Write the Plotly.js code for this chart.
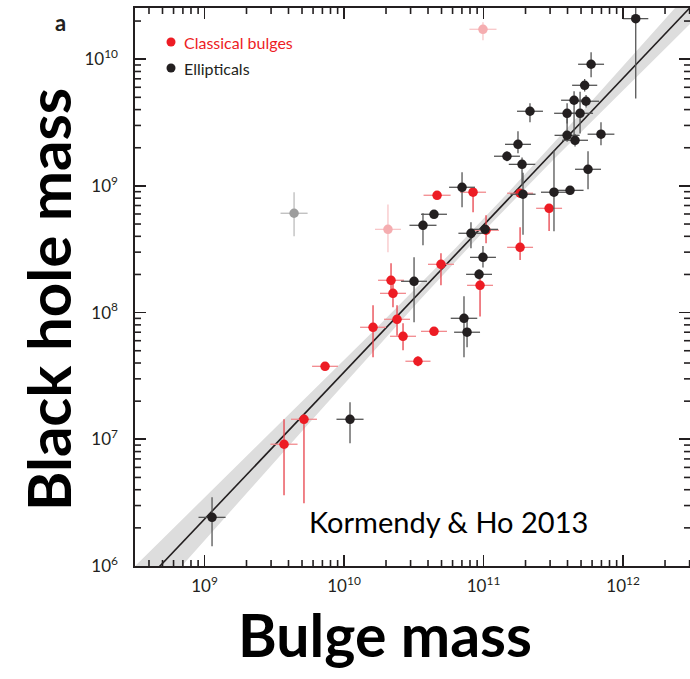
<!DOCTYPE html>
<html>
<head>
<meta charset="utf-8">
<script src="https://cdn.plot.ly/plotly-3.0.1.min.js"></script>
<style>
  html, body { margin: 0; padding: 0; background: #fff; }
  #chart { width: 690px; height: 679px; }
</style>
</head>
<body>
<div id="chart"></div>
<script>
// ---- Data (log10 masses in solar masses; errors in dex) ----
// Ellipticals (black)
const ellLogBulge = [12.091, 11.771, 11.725, 11.649, 11.735, 11.599, 11.692, 11.333, 11.599, 11.656,
                     11.842, 11.247, 11.168, 11.276, 11.749, 10.846, 11.283, 11.505, 11.620, 10.645,
                     10.566, 10.910, 11.011, 10.996, 10.968, 10.502, 10.860, 10.882, 10.043, 9.054];
const ellLogBH    = [10.320, 9.960, 9.794, 9.676, 9.668, 9.573, 9.573, 9.589, 9.399, 9.360,
                     9.408, 9.328, 9.234, 9.170, 9.131, 8.989, 8.934, 8.950, 8.965, 8.776,
                     8.689, 8.626, 8.657, 8.436, 8.302, 8.247, 7.955, 7.845, 7.158, 6.384];
const ellBulgeErr = [0.09, 0.093, 0.09, 0.093, 0.093, 0.093, 0.093, 0.093, 0.09, 0.093,
                     0.096, 0.093, 0.093, 0.095, 0.093, 0.093, 0.09, 0.093, 0.097, 0.093,
                     0.097, 0.09, 0.093, 0.093, 0.093, 0.093, 0.095, 0.093, 0.097, 0.097];
const ellBHErrUp  = [0.10, 0.094, 0.05, 0.07, 0.05, 0.08, 0.17, 0.063, 0.20, 0.05,
                     0.095, 0.103, 0.04, 0.055, 0.142, 0.118, 0.17, 0.332, 0.03, 0.03,
                     0.095, 0.087, 0.03, 0.09, 0.04, 0.189, 0.174, 0.095, 0.134, 0.158];
const ellBHErrDn  = [0.63, 0.103, 0.05, 0.30, 0.05, 0.08, 0.16, 0.087, 0.05, 0.05,
                     0.087, 0.071, 0.04, 0.166, 0.158, 0.158, 0.32, 0.308, 0.03, 0.03,
                     0.158, 0.118, 0.03, 0.08, 0.04, 0.324, 0.308, 0.118, 0.19, 0.229];

// Classical bulges (red)
const clsLogBulge = [10.667, 10.925, 11.262, 11.470, 11.018, 11.262, 10.695, 10.975, 10.337, 10.351,
                     10.380, 10.423, 10.645, 10.530, 10.208, 9.864, 9.570, 9.713];
const clsLogBH    = [8.926, 8.950, 8.942, 8.823, 8.650, 8.515, 8.381, 8.215, 8.255, 8.152,
                     7.947, 7.813, 7.852, 7.616, 7.884, 7.576, 6.961, 7.158];
const clsBulgeErr = [0.097, 0.093, 0.093, 0.093, 0.093, 0.093, 0.093, 0.093, 0.093, 0.093,
                     0.093, 0.093, 0.093, 0.09, 0.093, 0.093, 0.097, 0.093];
const clsBHErrUp  = [0.03, 0.03, 0.03, 0.03, 0.118, 0.158, 0.087, 0.103, 0.134, 0.10,
                     0.11, 0.103, 0.02, 0.04, 0.174, 0.02, 0.197, 0.04];
const clsBHErrDn  = [0.03, 0.158, 0.03, 0.18, 0.103, 0.10, 0.166, 0.245, 0.103, 0.11,
                     0.13, 0.111, 0.02, 0.04, 0.237, 0.02, 0.403, 0.663];

// Omitted classical bulges (pale red)
const omitLogBulge = [10.996, 10.315];
const omitLogBH    = [10.236, 8.657];
const omitBulgeErr = [0.097, 0.093];
const omitBHErrUp  = [0.055, 0.197];
const omitBHErrDn  = [0.087, 0.181];

// Omitted elliptical (grey)
const greyLogBulge = [9.642];
const greyLogBH    = [8.784];
const greyBulgeErr = [0.097];
const greyBHErrUp  = [0.166];
const greyBHErrDn  = [0.181];

// Fit: log M_BH = fitA + fitB (log M_bulge - fitPivot), with 1-sigma parameter errors
const fitA = 8.69, fitB = 1.16, fitPivot = 11, fitErrA = 0.05, fitErrB = 0.08;

// Tick labels
const xTickVals = [1e9, 1e10, 1e11, 1e12];
const xTickText = ['10<sup>9</sup>', '10<sup>10</sup>', '10<sup>11</sup>', '10<sup>12</sup>'];
const yTickVals = [1e6, 1e7, 1e8, 1e9, 1e10];
const yTickText = ['10<sup>6</sup>', '10<sup>7</sup>', '10<sup>8</sup>', '10<sup>9</sup>', '10<sup>10</sup>'];

// ---- Build traces ----
function pointTrace(lx, ly, ex, eyu, eyd, color, exColor, eyColor) {
  const x = lx.map(v => Math.pow(10, v));
  const y = ly.map(v => Math.pow(10, v));
  return {
    type: 'scatter', mode: 'markers', x: x, y: y, showlegend: false, hoverinfo: 'skip',
    marker: { color: color, size: 9.5, line: { width: 0 } },
    error_x: { type: 'data', symmetric: false,
      array: lx.map((v, i) => Math.pow(10, v + ex[i]) - x[i]),
      arrayminus: lx.map((v, i) => x[i] - Math.pow(10, v - ex[i])),
      color: exColor, thickness: 1.3, width: 0 },
    error_y: { type: 'data', symmetric: false,
      array: ly.map((v, i) => Math.pow(10, v + eyu[i]) - y[i]),
      arrayminus: ly.map((v, i) => y[i] - Math.pow(10, v - eyd[i])),
      color: eyColor, thickness: 1.3, width: 0 }
  };
}

const fitX0 = 8.3, fitX1 = 12.7, fitStep = 0.05;
const bandX = [], bandUp = [], bandDn = [];
for (let v = fitX0; v <= fitX1 + 1e-9; v += fitStep) {
  const d = v - fitPivot;
  const m = fitA + fitB * d;
  const s = Math.sqrt(fitErrA * fitErrA + fitErrB * fitErrB * d * d);
  bandX.push(v); bandUp.push(m + s); bandDn.push(m - s);
}
const polyX = bandX.concat(bandX.slice().reverse()).map(v => Math.pow(10, v));
const polyY = bandUp.concat(bandDn.slice().reverse()).map(v => Math.pow(10, v));

const bandTrace = {
  type: 'scatter', mode: 'lines', x: polyX, y: polyY, fill: 'toself',
  fillcolor: '#dddddd', line: { width: 0, color: '#dddddd' }, showlegend: false, hoverinfo: 'skip'
};
const fitTrace = {
  type: 'scatter', mode: 'lines',
  x: [Math.pow(10, fitX0), Math.pow(10, fitX1)],
  y: [Math.pow(10, fitA + fitB * (fitX0 - fitPivot)), Math.pow(10, fitA + fitB * (fitX1 - fitPivot))],
  line: { color: '#231f20', width: 1.6 }, showlegend: false, hoverinfo: 'skip'
};

const traces = [
  bandTrace, fitTrace,
  pointTrace(greyLogBulge, greyLogBH, greyBulgeErr, greyBHErrUp, greyBHErrDn, '#9d9d9d', '#bcbcbc', '#bcbcbc'),
  pointTrace(omitLogBulge, omitLogBH, omitBulgeErr, omitBHErrUp, omitBHErrDn, '#f5adb0', '#f8c6c8', '#f8c6c8'),
  pointTrace(clsLogBulge, clsLogBH, clsBulgeErr, clsBHErrUp, clsBHErrDn, '#ed1c24', '#f28a8e', '#e8414a'),
  pointTrace(ellLogBulge, ellLogBH, ellBulgeErr, ellBHErrUp, ellBHErrDn, '#231f20', '#555555', '#555555')
];

const FONT = 'Lato, "Open Sans", sans-serif';
const INK = '#231f20';
const xRange = [8.5018, 12.48], yRange = [6, 10.404];

const W = 690, H = 679, ML = 135, MR = 0, MT = 8, MB = 113;
const PW = W - ML - MR, PH = H - MT - MB;
const px = v => (v - ML) / PW;           // pixel -> paper x
const py = v => (H - MB - v) / PH;       // pixel -> paper y

// minor tick positions (log10 of 2..9 x 10^n) inside a range
function minorTickLogs(lo, hi) {
  const out = [];
  for (let n = Math.floor(lo); n <= Math.ceil(hi); n++) {
    for (let k = 2; k <= 9; k++) {
      const lv = Math.log10(k * Math.pow(10, n));
      if (lv > lo && lv < hi) out.push(lv);
    }
  }
  return out;
}
const MINOR_LEN = 6, MINOR_W = 1.6;
const minorShapes = [];
minorTickLogs(xRange[0], xRange[1]).forEach(lv => {
  const xp = (lv - xRange[0]) / (xRange[1] - xRange[0]);
  minorShapes.push({ type: 'line', xref: 'paper', yref: 'paper', x0: xp, x1: xp, y0: 0, y1: MINOR_LEN / PH,
    line: { color: INK, width: MINOR_W } });
  minorShapes.push({ type: 'line', xref: 'paper', yref: 'paper', x0: xp, x1: xp, y0: 1, y1: 1 - MINOR_LEN / PH,
    line: { color: INK, width: MINOR_W } });
});
minorTickLogs(yRange[0], yRange[1]).forEach(lv => {
  const yp = (lv - yRange[0]) / (yRange[1] - yRange[0]);
  minorShapes.push({ type: 'line', xref: 'paper', yref: 'paper', y0: yp, y1: yp, x0: 0, x1: MINOR_LEN / PW,
    line: { color: INK, width: MINOR_W } });
  minorShapes.push({ type: 'line', xref: 'paper', yref: 'paper', y0: yp, y1: yp, x0: 1, x1: 1 - MINOR_LEN / PW,
    line: { color: INK, width: MINOR_W } });
});

function axisBase(range, tickvals, ticktext) {
  return {
    type: 'log', range: range, tickmode: 'array', tickvals: tickvals, ticktext: ticktext,
    showline: true, linecolor: INK, linewidth: 1.6, mirror: 'ticks',
    ticks: 'inside', ticklen: 11, tickwidth: 1.8, tickcolor: INK,
    showgrid: false, zeroline: false,
    tickfont: { family: FONT, size: 17, color: INK }
  };
}

const layout = {
  width: W, height: H,
  margin: { l: ML, r: MR, t: MT, b: MB, pad: 0 },
  paper_bgcolor: '#ffffff', plot_bgcolor: '#ffffff',
  showlegend: false,
  xaxis: Object.assign(axisBase(xRange, xTickVals, xTickText), { ticklabelstandoff: 4 }),
  yaxis: Object.assign(axisBase(yRange, yTickVals, yTickText), { ticklabelstandoff: 12 }),
  shapes: minorShapes.concat([
    { type: 'circle', xref: 'paper', yref: 'paper', x0: px(166.5), x1: px(175.5), y0: py(46.5), y1: py(37.5),
      fillcolor: '#ed1c24', line: { width: 0 } },
    { type: 'circle', xref: 'paper', yref: 'paper', x0: px(166.5), x1: px(175.5), y0: py(72.5), y1: py(63.5),
      fillcolor: INK, line: { width: 0 } }
  ]),
  annotations: [
    { text: 'Classical bulges', xref: 'paper', yref: 'paper', x: px(182), y: py(42), xanchor: 'left', yanchor: 'middle',
      showarrow: false, font: { family: FONT, size: 16, color: '#ed1c24' } },
    { text: 'Ellipticals', xref: 'paper', yref: 'paper', x: px(182), y: py(68), xanchor: 'left', yanchor: 'middle',
      showarrow: false, font: { family: FONT, size: 16, color: INK } },
    { text: '<b>a</b>', xref: 'paper', yref: 'paper', x: px(60), y: py(22), xanchor: 'center', yanchor: 'middle',
      showarrow: false, font: { family: FONT, size: 22, color: INK } },
    { text: 'Kormendy &amp; Ho 2013', xref: 'paper', yref: 'paper', x: px(448), y: py(521), xanchor: 'center', yanchor: 'middle',
      showarrow: false, font: { family: FONT, size: 29, color: '#000000' } },
    { text: '<b>Bulge mass</b>', xref: 'paper', yref: 'paper', x: px(385), y: py(635), xanchor: 'center', yanchor: 'middle',
      showarrow: false, font: { family: FONT, size: 59, color: '#000000' } },
    { text: '<b>Black hole mass</b>', xref: 'paper', yref: 'paper', x: px(48), y: py(300), xanchor: 'center', yanchor: 'middle',
      textangle: -90, showarrow: false, font: { family: FONT, size: 60, color: '#000000' } }
  ]
};

Plotly.newPlot('chart', traces, layout, { displayModeBar: false, staticPlot: true });
</script>
</body>
</html>
